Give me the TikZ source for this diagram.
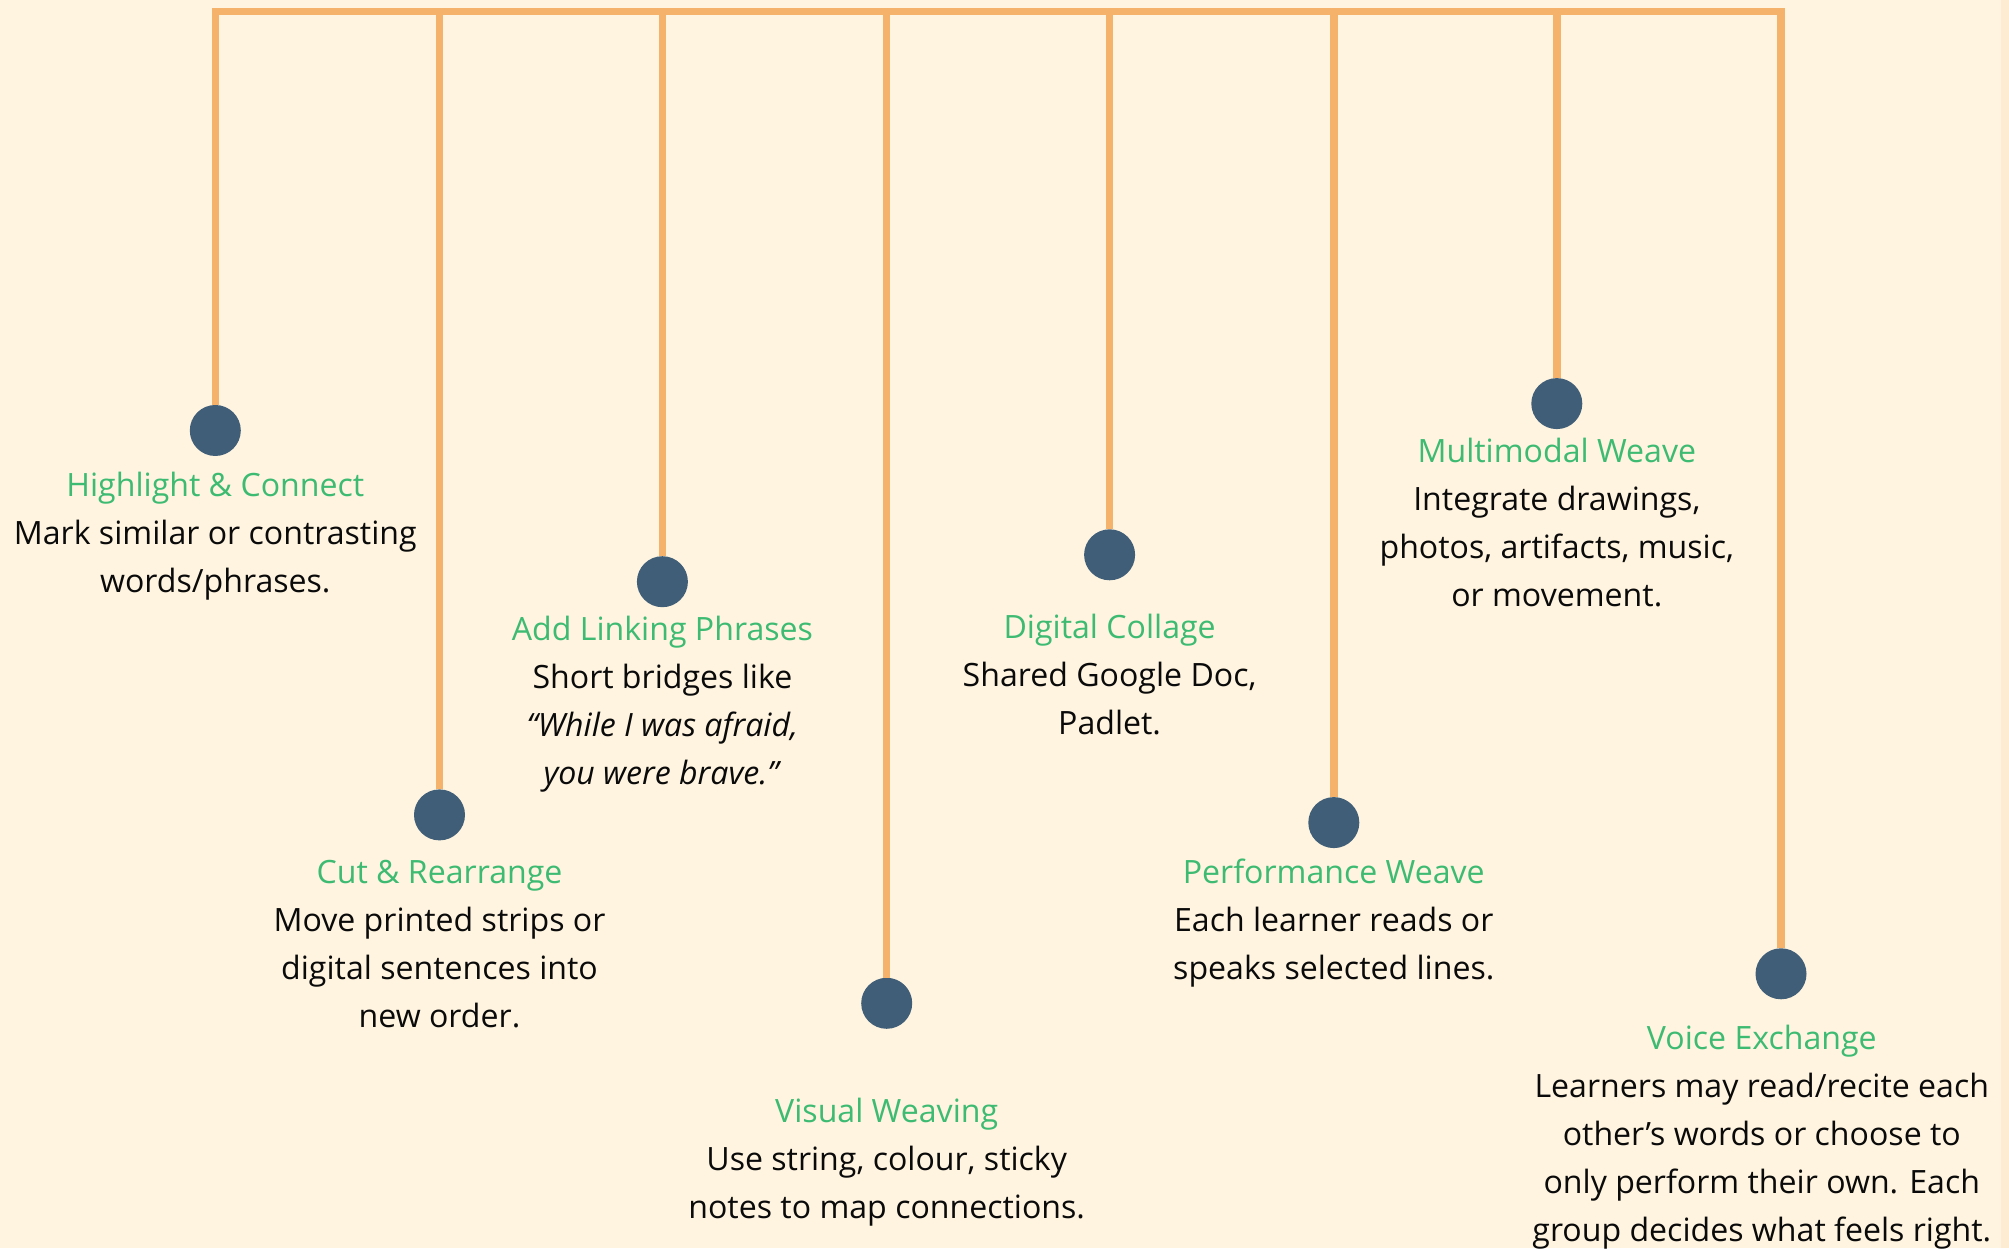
\documentclass[tikz,border=0pt]{standalone}
\usepackage{fontspec}
\setmainfont{Open Sans}
\usetikzlibrary{positioning}
\definecolor{paper}{HTML}{FFF4E0}
\definecolor{paperedge}{HTML}{FDEBD2}
\definecolor{rope}{HTML}{F5B26B}
\definecolor{knotblue}{HTML}{405E78}
\definecolor{heading}{HTML}{3DBB72}
\definecolor{ink}{HTML}{0A0A0A}
\newcommand{\hd}[1]{\textcolor{heading}{#1}}

\begin{document}
\begin{tikzpicture}[x=1pt,y=1pt,
    stem/.style={draw=rope,line width=7.4pt,line join=miter},
    bead/.style={circle,fill=knotblue,minimum size=51pt,inner sep=0pt},
    info/.style={anchor=north,align=center,inner sep=0pt,text=ink,
                 font=\fontsize{32.1}{48}\selectfont}]
            % page
            \fill[paper] (0,0) rectangle (2009,1248);
            \fill[paperedge] (2001,0) rectangle (2009,1248);
            \useasboundingbox (0,0) rectangle (2009,1248);
            % top of each stem
            \coordinate (nT1) at ( 215.3,1236.5);
            \coordinate (nT2) at ( 439.5,1236.5);
            \coordinate (nT3) at ( 662.4,1236.5);
            \coordinate (nT4) at ( 886.7,1236.5);
            \coordinate (nT5) at (1109.6,1236.5);
            \coordinate (nT6) at (1333.8,1236.5);
            \coordinate (nT7) at (1556.8,1236.5);
            \coordinate (nT8) at (1781.0,1236.5);
            % beads
            \node at (nT1 |- 0,817.5) [bead] (nD1) {};
            \node at (nT2 |- 0,433.1) [bead] (nD2) {};
            \node at (nT3 |- 0,666.3) [bead] (nD3) {};
            \node at (nT4 |- 0,244.7) [bead] (nD4) {};
            \node at (nT5 |- 0,693.2) [bead] (nD5) {};
            \node at (nT6 |- 0,425.4) [bead] (nD6) {};
            \node at (nT7 |- 0,844.4) [bead] (nD7) {};
            \node at (nT8 |- 0,274.2) [bead] (nD8) {};
            % bar with the outer stems
            \draw[stem] (nD1) -- (nT1) -- (nT8) -- (nD8) ;
            % inner stems
            \draw[stem] (nT2) -- (nD2) ;
            \draw[stem] (nT3) -- (nD3) ;
            \draw[stem] (nT4) -- (nD4) ;
            \draw[stem] (nT5) -- (nD5) ;
            \draw[stem] (nT6) -- (nD6) ;
            \draw[stem] (nT7) -- (nD7) ;
            % labels
            \node at (nD1) [info,yshift=-32.5pt] (nL1) {\strut\hd{Highlight \& Connect}\\Mark similar or contrasting\\words/phrases.};
            \node at (nD2) [info,yshift=-35.1pt] (nL2) {\strut\hd{Cut \& Rearrange}\\Move printed strips or\\digital sentences into\\new order.};
            \node at (nD3) [info,yshift=-24.8pt] (nL3) {\strut\hd{Add Linking Phrases}\\Short bridges like\\\textit{“While I was afraid,}\\\textit{you were brave.”}};
            \node at (nD4) [info,yshift=-85pt] (nL4) {\strut\hd{Visual Weaving}\\Use string, colour, sticky\\notes to map connections.};
            \node at (nD5) [info,yshift=-50.4pt] (nL5) {\strut\hd{Digital Collage}\\Shared Google Doc,\\Padlet.};
            \node at (nD6) [info,yshift=-27.4pt] (nL6) {\strut\hd{Performance Weave}\\Each learner reads or\\speaks selected lines.};
            \node at (nD7) [info,yshift=-24.8pt] (nL7) {\strut\hd{Multimodal Weave}\\Integrate drawings,\\photos, artifacts, music,\\or movement.};
            \node at (nD8) [info,xshift=-19.2pt,yshift=-41.5pt] (nL8) {\strut\hd{Voice Exchange}\\Learners may read/recite each\\other’s words or choose to\\only perform their own. Each\\group decides what feels right.};
\end{tikzpicture}
\end{document}
